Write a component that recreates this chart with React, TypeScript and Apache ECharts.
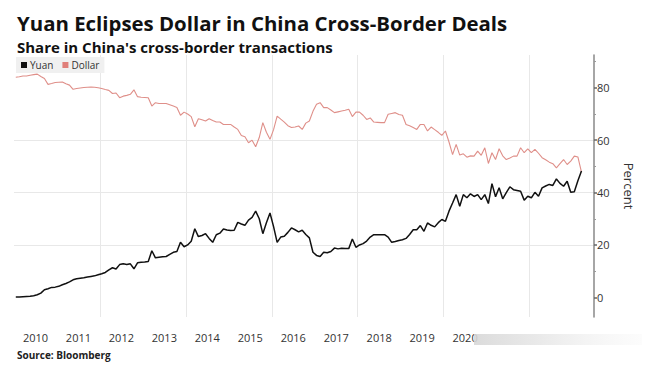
import React, { useEffect, useRef } from "react";
import * as echarts from "echarts";

// Monthly shares (%) from Jan 2010 to Mar 2023
const startYear = 2010;
const yuan = [
  0.1, 0.1, 0.2, 0.3, 0.4, 0.6,
  1.0, 1.6, 2.9, 3.3, 3.8, 3.9,
  4.2, 4.8, 5.3, 5.9, 6.7, 7.1,
  7.3, 7.5, 7.8, 8.0, 8.2, 8.6,
  9.0, 9.5, 10.5, 11.3, 10.8, 12.5,
  12.8, 12.5, 12.8, 10.9, 13.2, 13.4,
  13.5, 13.7, 17.8, 15.1, 15.3, 15.5,
  15.6, 16.4, 17.2, 17.5, 21.0, 19.3,
  20.0, 21.4, 26.2, 23.2, 23.6, 24.3,
  22.5, 21.0, 23.9, 24.5, 26.1, 25.7,
  25.5, 25.6, 28.6, 28.0, 27.5, 29.5,
  30.5, 32.9, 30.0, 24.3, 28.5, 32.2,
  27.0, 21.0, 23.0, 23.3, 24.8, 26.5,
  25.8, 25.0, 25.6, 24.0, 22.7, 17.2,
  16.0, 15.6, 17.2, 17.0, 17.5, 18.8,
  18.5, 18.7, 18.6, 18.6, 22.3, 19.1,
  20.0, 20.5, 21.5, 23.0, 23.9, 23.9,
  23.9, 23.9, 23.0, 21.0, 21.3, 21.7,
  22.0, 22.5, 24.0, 25.8, 25.8, 27.4,
  25.2, 28.4, 27.5, 26.9, 28.5, 29.7,
  29.0, 32.9, 36.0, 39.2, 34.8, 39.2,
  38.0, 39.5, 38.5, 39.2, 37.3, 39.2,
  35.8, 43.4, 38.4, 41.8, 37.6, 40.0,
  42.2, 41.1, 40.8, 40.5, 37.1, 38.6,
  38.0, 40.1, 38.6, 41.8, 42.5, 43.1,
  42.7, 45.2, 43.5, 42.4, 44.3, 40.1,
  40.3, 44.5, 48.2,
];
const dollar = [
  84.0, 84.2, 84.5, 84.5, 84.8, 85.0,
  85.2, 84.3, 83.5, 81.3, 81.6, 82.0,
  82.1, 82.2, 81.5, 81.0, 79.4, 79.7,
  79.9, 80.1, 80.2, 80.3, 80.2, 80.0,
  79.7, 79.3, 79.0, 77.8, 78.0, 76.2,
  76.8, 77.1, 77.5, 79.2, 76.6, 76.4,
  76.3, 76.2, 73.0, 74.3, 74.0, 74.0,
  74.0, 73.5, 73.0, 72.5, 69.5, 70.7,
  70.0, 69.0, 65.1, 68.2, 67.8, 67.3,
  68.2, 67.5, 66.9, 66.9, 66.0, 66.0,
  66.0, 65.0, 64.1, 61.8, 61.3, 59.0,
  60.0, 57.5, 61.0, 66.7, 63.0, 60.3,
  64.0, 69.2, 68.0, 66.9, 65.5, 64.8,
  65.0, 65.4, 64.1, 66.5, 67.3, 71.0,
  73.7, 74.3, 72.4, 72.4, 71.5, 70.5,
  70.8, 71.1, 71.4, 71.8, 69.0, 70.7,
  70.7, 69.5, 67.9, 68.5, 66.9, 66.8,
  66.7, 66.7, 69.9, 70.2, 70.5, 69.8,
  69.5, 66.0, 65.5, 64.8, 64.1, 66.0,
  66.0, 63.5, 65.0, 64.0, 63.0, 61.8,
  63.5, 59.3, 54.5, 58.4, 54.3, 54.8,
  53.5, 54.0, 53.9, 55.8, 54.2, 57.1,
  51.1, 55.2, 52.6, 56.7, 54.0, 52.6,
  53.2, 53.9, 53.9, 57.1, 55.2, 56.7,
  55.2, 56.5, 55.0, 53.3, 52.5, 51.6,
  51.0, 49.4, 51.0, 52.6, 50.7, 52.0,
  53.9, 53.6, 47.8,
];
const yearLabels = [2010, 2011, 2012, 2013, 2014, 2015, 2016, 2017, 2018, 2019, 2020];
const yMajorTicks = [0, 20, 40, 60, 80];
const yMinorTicks = [10, 30, 50, 70, 90];

const toPairs = (vals: number[]) =>
  vals.map((v, i) => [startYear + (i + 0.5) / 12, v]);

const FONT = "'Open Sans', 'Noto Sans', sans-serif";

export default function App() {
  const ref = useRef<HTMLDivElement>(null);
  useEffect(() => {
    if (!ref.current) return;
    const chart = echarts.init(ref.current, null, { renderer: "svg" });
    chart.setOption({
      animation: false,
      backgroundColor: "#ffffff",
      textStyle: { fontFamily: FONT },
      title: [
        {
          text: "Yuan Eclipses Dollar in China Cross-Border Deals",
          left: 17,
          top: 12.5,
          padding: 0,
          textStyle: {
            fontFamily: FONT,
            fontWeight: "bold",
            fontSize: 20.4,
            lineHeight: 20,
            color: "#111",
          },
        },
        {
          text: "Share in China's cross-border transactions",
          left: 17,
          top: 39.5,
          padding: 0,
          textStyle: {
            fontFamily: FONT,
            fontWeight: "bold",
            fontSize: 15,
            lineHeight: 15,
            color: "#111",
          },
        },
        {
          text: "Source: Bloomberg",
          left: 17,
          top: 349,
          padding: 0,
          textStyle: { fontFamily: FONT, fontWeight: "bold", fontSize: 10, lineHeight: 11, color: "#222" },
        },
      ],
      legend: {
        left: 16,
        top: 57,
        backgroundColor: "#f0f0f0",
        padding: [3, 5, 3, 5],
        itemGap: 9,
        itemWidth: 6,
        itemHeight: 6,
        icon: "rect",
        textStyle: { fontFamily: FONT, fontSize: 10, color: "#333", padding: [0, 0, 0, -2] },
        data: ["Yuan", "Dollar"],
      },
      grid: { left: 14, right: 54, top: 55, bottom: 64, containLabel: false },
      xAxis: [
        {
          type: "value",
          min: 2010,
          max: 2023.5,
          interval: 2,
          axisLine: { show: false },
          axisTick: { show: false },
          axisLabel: { show: false },
          splitLine: {
            show: true,
            showMinLine: false,
            showMaxLine: false,
            lineStyle: { color: "#e8e8e8", width: 1 },
          },
        },
        {
          type: "value",
          min: 2010,
          max: 2023.5,
          position: "bottom",
          axisLine: { show: false },
          axisTick: { show: false },
          splitLine: { show: false },
          axisLabel: {
            show: true,
            customValues: yearLabels.map((y) => y + 0.5),
            formatter: (v: number) => String(Math.floor(v)),
            margin: 15,
            fontSize: 11,
            color: "#333",
            fontFamily: FONT,
          },
        },
      ],
      yAxis: [
        {
          type: "value",
          position: "right",
          min: -7.5,
          max: 92.5,
          name: "Percent",
          nameLocation: "middle",
          nameRotate: -90,
          nameGap: 28,
          nameTextStyle: { fontFamily: FONT, fontSize: 13, color: "#333" },
          axisLine: { show: true, lineStyle: { color: "#888", width: 1.5 } },
          axisTick: {
            show: true,
            customValues: yMajorTicks,
            length: 3,
            lineStyle: { color: "#666", width: 1.5 },
          },
          axisLabel: {
            show: true,
            customValues: yMajorTicks,
            margin: 3,
            fontSize: 11,
            color: "#333",
            fontFamily: FONT,
          },
          splitLine: {
            show: true,
            showMinLine: false,
            showMaxLine: false,
            lineStyle: { color: "#e8e8e8", width: 1 },
          },
        },
        {
          type: "value",
          position: "right",
          min: -7.5,
          max: 92.5,
          axisLine: { show: false },
          axisLabel: { show: false },
          splitLine: { show: false },
          axisTick: {
            show: true,
            customValues: yMinorTicks,
            length: 2,
            lineStyle: { color: "#999", width: 1 },
          },
        },
      ],
      series: [
        {
          name: "Yuan",
          type: "line",
          xAxisIndex: 0,
          yAxisIndex: 0,
          data: toPairs(yuan),
          showSymbol: false,
          symbol: "none",
          color: "#111111",
          lineStyle: { color: "#111111", width: 1.5 },
          z: 3,
        },
        {
          name: "Dollar",
          type: "line",
          xAxisIndex: 0,
          yAxisIndex: 0,
          data: toPairs(dollar),
          showSymbol: false,
          symbol: "none",
          color: "#e07f7a",
          lineStyle: { color: "#df8f89", width: 1.1 },
          z: 2,
        },
      ],
      graphic: [
        {
          type: "rect",
          left: 474,
          top: 334,
          shape: { width: 168, height: 11 },
          style: {
            fill: new echarts.graphic.LinearGradient(0, 0, 1, 0, [
              { offset: 0, color: "rgba(215,215,215,0.9)" },
              { offset: 0.4, color: "rgba(225,225,225,0.7)" },
              { offset: 1, color: "rgba(240,240,240,0.2)" },
            ]),
          },
          z: 10,
        },
      ],
    });
    return () => chart.dispose();
  }, []);
  return (
    <div
      ref={ref}
      style={{ position: "absolute", left: 0, top: 0, width: 648, height: 381 }}
    />
  );
}
